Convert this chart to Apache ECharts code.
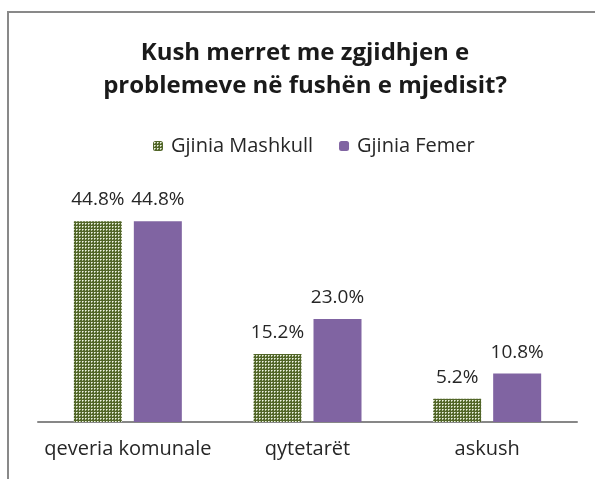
<!DOCTYPE html>
<html><head><meta charset="utf-8">
<script src="https://cdn.jsdelivr.net/npm/echarts@6/dist/echarts.min.js"></script>
<style>html,body{margin:0;padding:0;background:#fff}#c{width:595px;height:479px}
#frame{position:absolute;left:7px;top:11px;width:600px;height:500px;border-left:2px solid #898989;border-top:2px solid #898989;box-sizing:border-box;pointer-events:none}</style>
</head><body><div id="c"></div><div id="frame"></div>
<script>
const categories = ['qeveria komunale', 'qytetarët', 'askush'];
const seriesNames = ['Gjinia Mashkull', 'Gjinia Femer'];
const male = [44.8, 15.2, 5.2];
const female = [44.8, 23.0, 10.8];

const pc = document.createElement('canvas');
pc.width = 3; pc.height = 3;
const g = pc.getContext('2d');
g.fillStyle = '#526629'; g.fillRect(0,0,3,3);
g.fillStyle = '#eef2e6'; g.fillRect(1,1,1,1);
g.fillStyle = '#b3c19a'; g.fillRect(2,1,1,1); g.fillRect(1,2,1,1);
const pattern = {image: pc, repeat: 'repeat'};

const font = '"Open Sans", sans-serif';
const chart = echarts.init(document.getElementById('c'), null, {renderer:'canvas'});
chart.setOption({
  animation: false,
  title: {
    text: 'Kush merret me zgjidhjen e\nproblemeve në fushën e mjedisit?',
    left: 300, top: 32, textAlign: 'center',
    textStyle: {fontFamily: font, fontSize: 24, fontWeight: 'bold', color: '#1a1a1a', lineHeight: 33}
  },
  legend: {
    data: seriesNames, top: 131, left: 148, itemWidth: 10, itemHeight: 10, itemGap: 26,
    textStyle: {fontFamily: font, fontSize: 20, color: '#262626', padding: [0, 0, 0, 3]}
  },
  grid: {left: 38, right: 18, top: 198, bottom: 57},
  xAxis: {
    type: 'category', data: categories,
    axisLine: {lineStyle: {color: '#878787', width: 2}},
    axisTick: {show: false},
    axisLabel: {interval: 0, fontFamily: font, fontSize: 20, color: '#262626', margin: 17}
  },
  yAxis: {type: 'value', min: 0, max: 50, show: false, splitLine: {show: false}},
  series: [
    {name: seriesNames[0], type: 'bar', data: male, barWidth: 48, barGap: '25%',
     itemStyle: {color: pattern},
     label: {show: true, position: 'top', distance: 12, formatter: p => p.value.toFixed(1) + '%', fontFamily: font, fontSize: 19, color: '#262626'}},
    {name: seriesNames[1], type: 'bar', data: female, barWidth: 48,
     itemStyle: {color: '#8064a2'},
     label: {show: true, position: 'top', distance: 12, formatter: p => p.value.toFixed(1) + '%', fontFamily: font, fontSize: 19, color: '#262626'}}
  ]
});
</script></body></html>
